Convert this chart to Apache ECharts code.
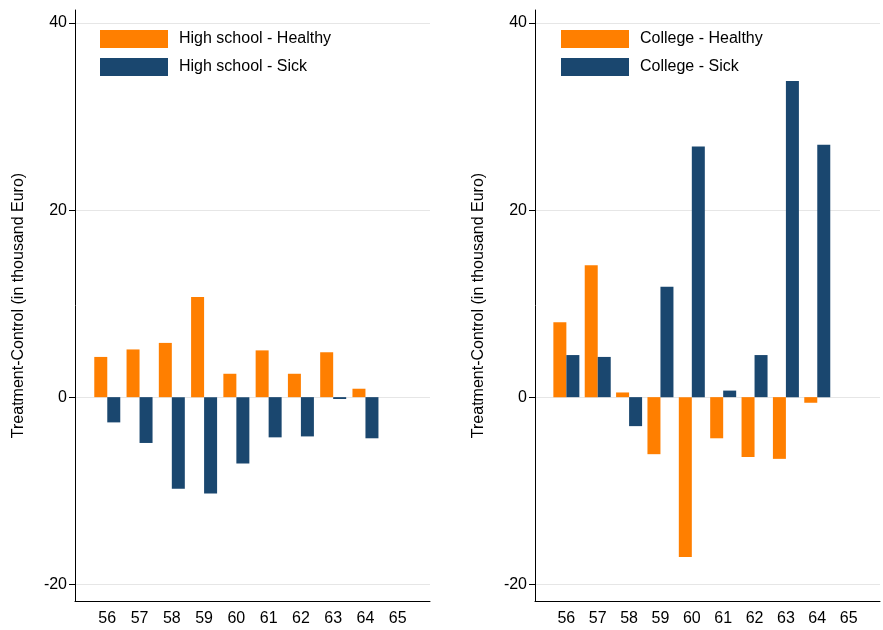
<!DOCTYPE html>
<html>
<head>
<meta charset="utf-8">
<script src="https://cdn.jsdelivr.net/npm/echarts@6/dist/echarts.min.js"></script>
<style>html,body{margin:0;background:#fff}#c{width:883px;height:630px}</style>
</head>
<body>
<div id="c"></div>
<script>
// ages; 55 and 66 are empty padding slots
var ages = ['55', '56', '57', '58', '59', '60', '61', '62', '63', '64', '65', '66'];
var yTicks = [-20, 0, 20, 40];
var hsHealthy = [null, 4.3, 5.1, 5.8, 10.7, 2.5, 5.0, 2.5, 4.8, 0.9, null, null];
var hsSick = [null, -2.7, -4.9, -9.8, -10.3, -7.1, -4.3, -4.2, -0.2, -4.4, null, null];
var coHealthy = [null, 8.0, 14.1, 0.5, -6.1, -17.1, -4.4, -6.4, -6.6, -0.6, null, null];
var coSick = [null, 4.5, 4.3, -3.1, 11.8, 26.8, 0.7, 4.5, 33.8, 27.0, null, null];

var ORANGE = '#ff7f00', NAVY = '#1a476f';
var font = 'Liberation Sans, Arial, sans-serif';

var chart = echarts.init(document.getElementById('c'));

function xAxis(i) {
    return {
        type: 'category', gridIndex: i, data: ages, boundaryGap: false,
        axisLine: {onZero: false, lineStyle: {color: '#000'}},
        axisTick: {show: false},
        axisLabel: {color: '#000', fontSize: 16, fontFamily: font, margin: 10,
            formatter: function (v) { return (v === '55' || v === '66') ? '' : v; }},
        splitLine: {show: false}
    };
}
function yAxis(i) {
    return {
        type: 'value', gridIndex: i, min: -21.8, max: 41.4,
        name: 'Treatment-Control (in thousand Euro)',
        nameLocation: 'middle', nameGap: 48,
        nameTextStyle: {color: '#000', fontSize: 16, fontFamily: font},
        axisLine: {show: true, lineStyle: {color: '#000'}},
        axisTick: {show: true, length: 6, customValues: yTicks, lineStyle: {color: '#000'}},
        axisLabel: {color: '#000', fontSize: 16, fontFamily: font, customValues: yTicks, margin: 8},
        splitLine: {show: true, lineStyle: {color: '#e6e6e6'}}
    };
}
function bar(name, data, color, i) {
    return {
        name: name, type: 'bar', data: data, xAxisIndex: i, yAxisIndex: i,
        barWidth: 13, barGap: '0%', itemStyle: {color: color}
    };
}
function legend(left, names) {
    return {
        left: left, top: 25, orient: 'vertical', data: names,
        itemWidth: 68, itemHeight: 18, itemGap: 10, icon: 'rect',
        textStyle: {color: '#000', fontSize: 16, fontFamily: font, padding: [0, 0, 0, 6]}
    };
}

chart.setOption({
    animation: false,
    grid: [
        {left: 75, right: 453, top: 10, bottom: 29},
        {left: 535, right: 3, top: 10, bottom: 29}
    ],
    legend: [
        legend(95, ['High school - Healthy', 'High school - Sick']),
        legend(556, ['College - Healthy', 'College - Sick'])
    ],
    xAxis: [xAxis(0), xAxis(1)],
    yAxis: [yAxis(0), yAxis(1)],
    series: [
        bar('High school - Healthy', hsHealthy, ORANGE, 0),
        bar('High school - Sick', hsSick, NAVY, 0),
        bar('College - Healthy', coHealthy, ORANGE, 1),
        bar('College - Sick', coSick, NAVY, 1)
    ]
});
</script>
</body>
</html>
